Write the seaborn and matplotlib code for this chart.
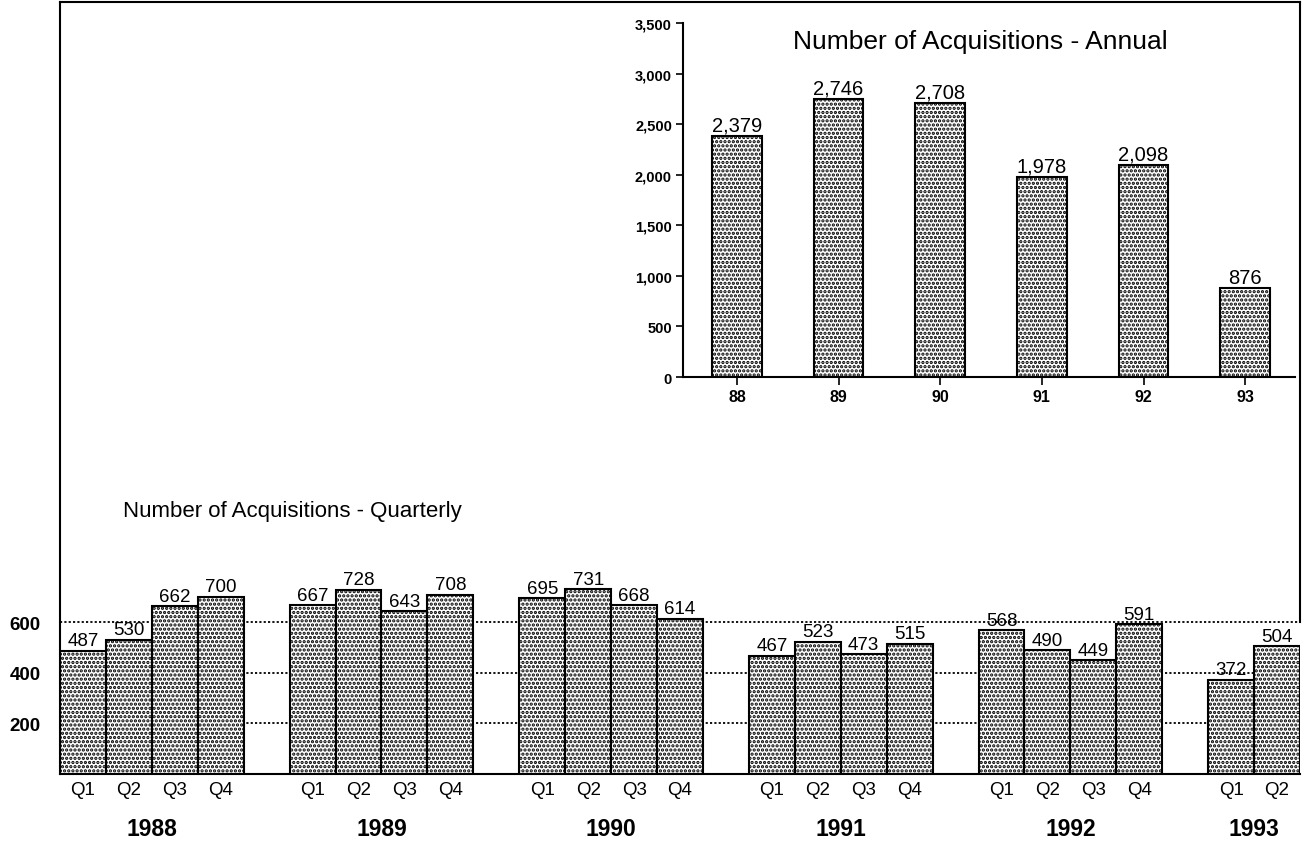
import matplotlib
matplotlib.use("Agg")
import matplotlib.pyplot as plt
import pandas as pd
import seaborn as sns

# Quarterly acquisitions, one list per year
years = ["1988", "1989", "1990", "1991", "1992", "1993"]
quarters = ["Q1", "Q2", "Q3", "Q4"]
q1988 = [487, 530, 662, 700]
q1989 = [667, 728, 643, 708]
q1990 = [695, 731, 668, 614]
q1991 = [467, 523, 473, 515]
q1992 = [568, 490, 449, 591]
q1993 = [372, 504]
quarterly = [q1988, q1989, q1990, q1991, q1992, q1993]

# Annual totals
annual_labels = ["88", "89", "90", "91", "92", "93"]
annual_values = [2379, 2746, 2708, 1978, 2098, 876]

grid_levels = [200, 400, 600]

sns.set_style("white")
plt.rcParams["font.family"] = ["Liberation Sans", "DejaVu Sans"]
plt.rcParams["hatch.linewidth"] = 1.6
plt.rcParams["text.color"] = "black"
plt.rcParams["xtick.color"] = "black"
plt.rcParams["ytick.color"] = "black"

W, H = 1304, 845
fig = plt.figure(figsize=(W / 100, H / 100), dpi=100)

# ---- quarterly chart (also forms the outer frame) ----
rows, order, tick_text = [], [], []
for i, (yr, vals) in enumerate(zip(years, quarterly)):
    for q, v in zip(quarters, vals):
        slot = f"{yr} {q}"
        rows.append({"slot": slot, "value": v})
        order.append(slot)
        tick_text.append(q)
    if i < len(years) - 1:
        order.append(f"gap{i}")
        tick_text.append("")
df_q = pd.DataFrame(rows)

ax = fig.add_axes([60 / W, 70 / H, 1240 / W, 772 / H])
ax.set_facecolor("white")
for v in grid_levels:
    ax.axhline(v, color="black", lw=1.3, ls=(0, (1.2, 1.2)), zorder=0.5)
sns.barplot(data=df_q, x="slot", y="value", order=order, width=1.0,
            color="white", saturation=1, edgecolor="black", linewidth=1.5,
            hatch="....", errorbar=None, ax=ax, zorder=2)
for c in ax.containers:
    ax.bar_label(c, fmt="{:,.0f}", padding=1, fontsize=13.5, color="black")
ax.set_xlim(-0.5, len(order) - 0.5)
ax.set_ylim(0, 3050)
ax.set_xticks(range(len(order)))
ax.set_xticklabels(tick_text, fontsize=13.5)
ax.set_yticks(grid_levels)
ax.set_yticklabels([str(v) for v in grid_levels], fontsize=13.5, fontweight="bold")
ax.tick_params(axis="both", length=0)
ax.tick_params(axis="x", pad=5)
ax.tick_params(axis="y", pad=14)
ax.set_xlabel("")
ax.set_ylabel("")
for s in ax.spines.values():
    s.set_color("black")
    s.set_linewidth(1.5)
ax.spines["right"].set_bounds(600, 3050)

# year labels under each group
pos = 0
for yr, vals in zip(years, quarterly):
    center = pos + (len(vals) - 1) / 2
    ax.text(center, -0.071, yr, transform=ax.get_xaxis_transform(),
            ha="center", va="center", fontsize=16.5, fontweight="bold")
    pos += len(vals) + 1

fig.text(123 / W, 1 - 512 / H, "Number of Acquisitions - Quarterly",
         ha="left", va="center", fontsize=16)

# ---- annual inset ----
ax2 = fig.add_axes([683 / W, (H - 378) / H, 612 / W, 354 / H])
ax2.set_facecolor("none")
sns.barplot(x=annual_labels, y=annual_values, width=0.49, color="white",
            saturation=1, edgecolor="black", linewidth=1.5, hatch="....",
            errorbar=None, ax=ax2)
for c in ax2.containers:
    ax2.bar_label(c, fmt="{:,.0f}", padding=1, fontsize=14.5, color="black")
ax2.set_xlim(-0.53, 5.49)
ax2.set_ylim(0, 3500)
ax2.set_yticks(range(0, 3501, 500))
ax2.set_yticklabels([f"{v:,}" for v in range(0, 3501, 500)], fontsize=10.5,
                    fontweight="bold")
ax2.tick_params(axis="x", labelsize=11.5, length=6, width=1.2, direction="out",
                bottom=True, pad=3)
ax2.tick_params(axis="y", length=5, width=1.2, direction="out", left=True, pad=3)
for lbl in ax2.get_xticklabels():
    lbl.set_fontweight("bold")
ax2.set_xlabel("")
ax2.set_ylabel("")
sns.despine(ax=ax2, top=True, right=True)
for side in ("left", "bottom"):
    ax2.spines[side].set_linewidth(1.5)
    ax2.spines[side].set_color("black")
ax2.text(0.485, 0.95, "Number of Acquisitions - Annual", transform=ax2.transAxes,
         ha="center", va="center", fontsize=19)

fig.savefig("out.png", dpi=100)
